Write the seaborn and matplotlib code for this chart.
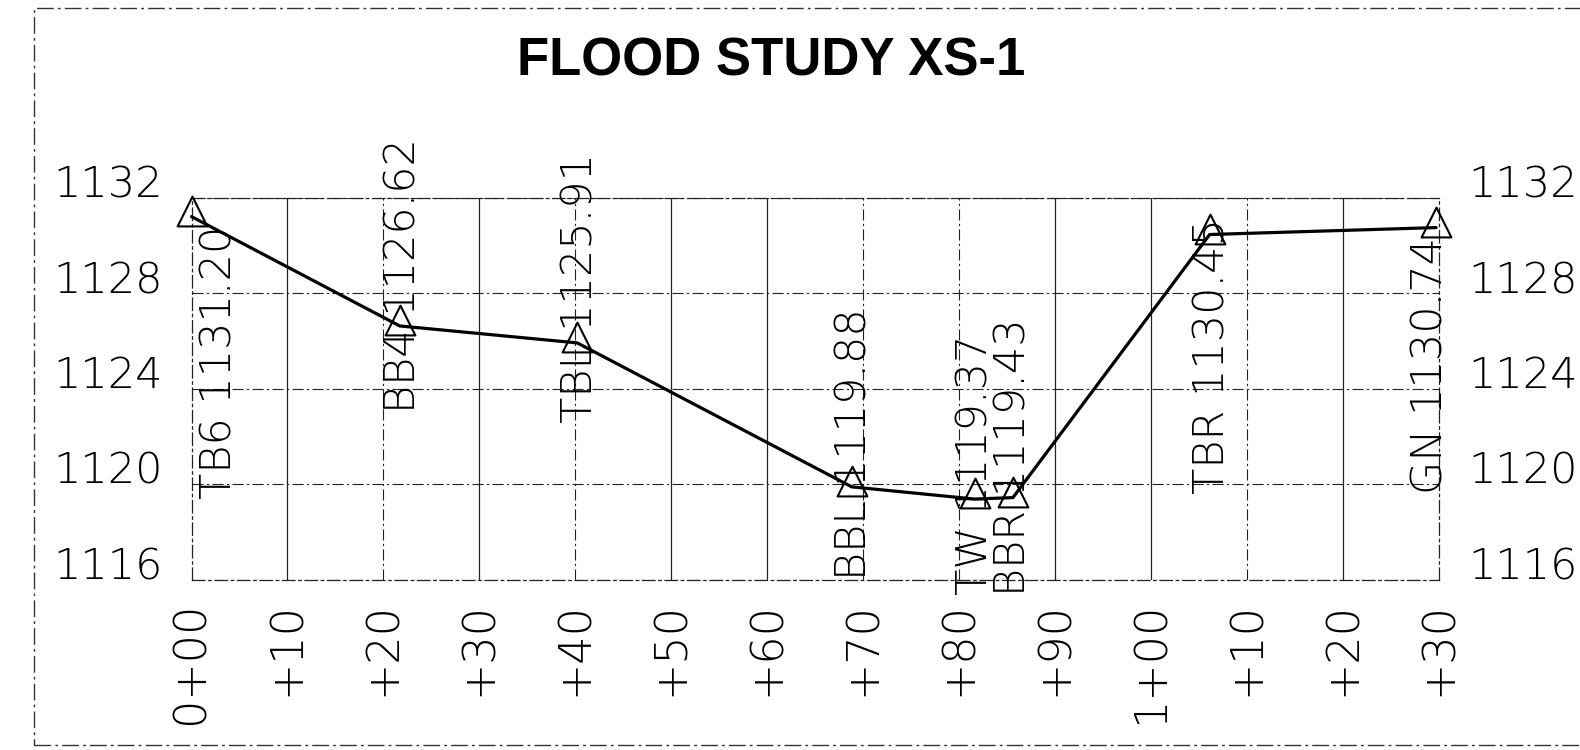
import matplotlib
matplotlib.use("Agg")
import matplotlib.pyplot as plt
import seaborn as sns
import pandas as pd
from matplotlib.patches import Rectangle
from matplotlib.path import Path

# ---------------- data ----------------
title = "FLOOD STUDY XS-1"
point_names = ["TB6", "BB4", "TBL", "BBL", "TW", "BBR", "TBR", "GN"]
stations = [0.0, 21.7, 40.2, 68.8, 81.6, 85.6, 106.1, 129.7]
elevations = [1131.20, 1126.62, 1125.91, 1119.88, 1119.37, 1119.43, 1130.45, 1130.74]
x_ticks = [0, 10, 20, 30, 40, 50, 60, 70, 80, 90, 100, 110, 120, 130]
x_tick_labels = ["0+00", "+10", "+20", "+30", "+40", "+50", "+60", "+70",
                 "+80", "+90", "1+00", "+10", "+20", "+30"]
y_ticks = [1116, 1120, 1124, 1128, 1132]

# label layout (pixel x-offset, bottom of rotated label in data units)
label_dx = [28, 3, 3, 2, 0, 0, 2, -6]
label_bottom = [1119.38, 1122.97, 1122.55, 1116.0, 1115.37, 1115.29, 1119.6, 1119.6]
# vertical grid style per station tick (scanned CAD look)
vgrid_solid = [False, True, False, True, False, True, True, False,
               False, True, True, False, True, False]

df = pd.DataFrame({"station": stations, "elev": elevations, "name": point_names})

sns.set_style("white")
plt.rcParams["font.family"] = ["DejaVu Sans"]
plt.rcParams["text.color"] = "black"
plt.rcParams["xtick.color"] = "black"
plt.rcParams["ytick.color"] = "black"

W, H = 1580, 750
fig = plt.figure(figsize=(W / 100, H / 100), dpi=100)
L, R, T, B = 191.5, 1439, 197.5, 579.5
ax = fig.add_axes([L / W, 1 - B / H, (R - L) / W, (B - T) / H])

# CAD-style survey triangle: point sits ~70% down from the apex
tri = Path([(0, 0.7), (-0.5, -0.3), (0.5, -0.3), (0, 0.7)],
           [Path.MOVETO, Path.LINETO, Path.LINETO, Path.CLOSEPOLY])

sns.lineplot(data=df, x="station", y="elev", ax=ax, color="black", linewidth=2.3,
             marker=tri, markersize=30, markerfacecolor="none",
             markeredgecolor="black", markeredgewidth=1.5, sort=False,
             clip_on=False, zorder=5)

ax.set_xlim(0, 130)
ax.set_ylim(1116, 1132)
ax.set_xlabel("")
ax.set_ylabel("")

ax.set_xticks(x_ticks)
ax.set_xticklabels(x_tick_labels, rotation=90, fontsize=32, fontweight="light", color="black")
ax.set_yticks(y_ticks)
ax.set_yticklabels([str(v) for v in y_ticks], fontsize=31, fontweight="light", color="black")

ax.tick_params(axis="x", length=0, pad=16)
ax.tick_params(axis="y", length=0, pad=21, labelright=True, right=False)
for t in ax.yaxis.get_major_ticks():
    t.label1.set_va("baseline")
    t.label2.set_va("baseline")
    t.label2.set_ha("left")

grid_ls = (0, (10, 3, 2, 3))
ax.grid(True, axis="y", color="#222222", linewidth=0.8, linestyle=grid_ls)
ax.grid(False, axis="x")
for xv, solid in zip(x_ticks[1:-1], vgrid_solid[1:-1]):
    ax.axvline(xv, color="#222222", linewidth=0.9 if solid else 0.8,
               linestyle="-" if solid else grid_ls, zorder=1)
for sp in ax.spines.values():
    sp.set_visible(True)
    sp.set_linestyle(grid_ls)
    sp.set_linewidth(0.9)
    sp.set_color("#222222")

for name, xs, ys, dx, yb in zip(point_names, stations, elevations, label_dx, label_bottom):
    ax.annotate(f"{name} {ys:.2f}", xy=(xs, yb), xytext=(dx, 0),
                textcoords="offset pixels", rotation=90, ha="center", va="bottom",
                fontsize=31, fontweight="light", color="black", annotation_clip=False)

fig.text(771 / W, 1 - 61 / H, title, ha="center", va="center", color="black",
         fontsize=38, fontweight="bold", family=["Liberation Sans", "DejaVu Sans"])

fig.add_artist(Rectangle((33.5 / W, 1 - 745 / H), 1.1, (745 - 8) / H,
                         transform=fig.transFigure, fill=False, edgecolor="#333333",
                         linewidth=1.0, linestyle=(0, (12, 3, 2, 3)), clip_on=False))

fig.savefig("out.png", dpi=100, facecolor="white")
